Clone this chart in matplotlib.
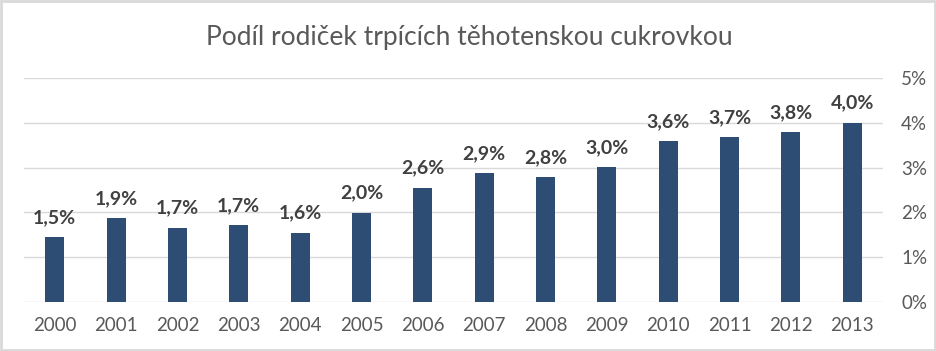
import matplotlib
matplotlib.use('Agg')
import matplotlib.pyplot as plt
from matplotlib.patches import Rectangle

years = ['2000', '2001', '2002', '2003', '2004', '2005', '2006',
         '2007', '2008', '2009', '2010', '2011', '2012', '2013']
share = [1.45, 1.87, 1.66, 1.72, 1.55, 1.99, 2.55,
         2.88, 2.79, 3.01, 3.59, 3.68, 3.79, 4.00]
labels = ['1,5%', '1,9%', '1,7%', '1,7%', '1,6%', '2,0%', '2,6%',
          '2,9%', '2,8%', '3,0%', '3,6%', '3,7%', '3,8%', '4,0%']
yticks = [0, 1, 2, 3, 4, 5]
title = 'Podíl rodiček trpících těhotenskou cukrovkou'

plt.rcParams['font.family'] = ['Lato', 'DejaVu Sans']

fig = plt.figure(figsize=(9.37, 3.51), dpi=100)
ax = fig.add_axes([24 / 937, 1 - 302 / 351, 859 / 937, 224 / 351])

x = list(range(len(years)))
ax.bar(x, share, width=0.31, color='#2E4D75', zorder=2)

for xi, v, lab in zip(x, share, labels):
    ax.annotate(lab, (xi, v), xytext=(0, 8), textcoords='offset points',
                ha='center', va='bottom', fontsize=14, fontweight='bold',
                color='#404040')

ax.set_xlim(-0.5, len(years) - 0.5)
ax.set_ylim(0, 5)
ax.set_xticks(x)
ax.set_xticklabels(years, fontsize=13.5, color='#595959')
ax.set_yticks(yticks)
ax.set_yticklabels([f'{t}%' for t in yticks], fontsize=13.5, color='#595959')
ax.yaxis.tick_right()
ax.tick_params(axis='both', length=0)
ax.tick_params(axis='x', pad=11)
ax.tick_params(axis='y', pad=13)
ax.grid(axis='y', color='#D9D9D9', linewidth=1, zorder=0)
for s in ax.spines.values():
    s.set_visible(False)

fig.text(469 / 937, 1 - 37 / 351, title, ha='center', va='center',
         fontsize=19, color='#595959')

fig.patches.append(Rectangle((0.001, 0.002), 0.997, 0.995, transform=fig.transFigure,
                             fill=False, edgecolor='#D9D9D9', linewidth=2))

plt.savefig('out.png', dpi=100)
plt.close()
